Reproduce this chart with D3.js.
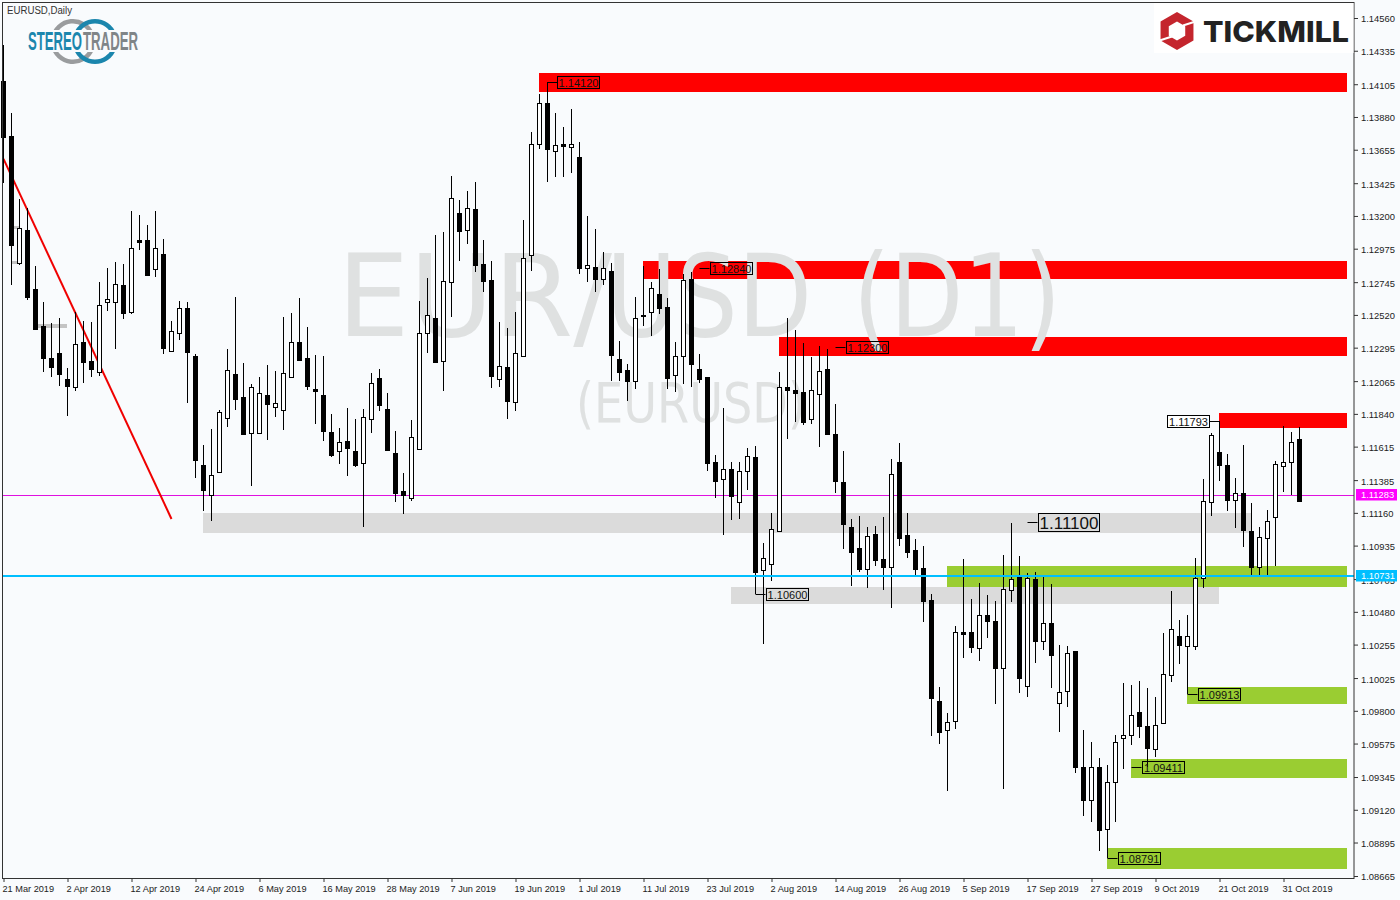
<!DOCTYPE html>
<html>
<head>
<meta charset="utf-8">
<title>EURUSD Daily</title>
<script src="https://cdn.jsdelivr.net/npm/d3@7/dist/d3.min.js"></script>
<style>
html,body{margin:0;padding:0;background:#f9fbfd;}
svg{display:block;}
text{font-family:"Liberation Sans",sans-serif;}
</style>
</head>
<body>
<svg id="chart" width="1400" height="900"></svg>
<script>
const opens=[1.14127,1.13750,1.12877,1.13104,1.12698,1.12444,1.12224,1.12259,1.12080,1.12025,
1.12334,1.12204,1.12128,1.12609,1.12609,1.12726,1.12540,1.13035,1.13035,1.12836,
1.12939,1.12272,1.12396,1.12568,1.12238,1.11489,1.11283,1.11441,1.11812,1.12114,
1.11956,1.11709,1.11709,1.11970,1.11888,1.11867,1.12094,1.12334,1.12224,1.12011,
1.11970,1.11716,1.11585,1.11654,1.11585,1.11503,1.11805,1.12087,1.11874,1.11572,
1.11311,1.11262,1.11599,1.12396,1.12499,1.12204,1.12747,1.13221,1.13104,1.13248,
1.12870,1.12760,1.12080,1.12162,1.11922,1.12238,1.12932,1.13695,1.13976,1.13647,
1.13695,1.13674,1.13605,1.12843,1.12850,1.12767,1.12822,1.12217,1.12142,1.12066,
1.12520,1.12540,1.12664,1.12575,1.12108,1.12238,1.12767,1.12149,1.12094,1.11510,
1.11393,1.11462,1.11235,1.11448,1.11544,1.10768,1.10809,1.11036,1.12025,1.12004,
1.11991,1.11805,1.11977,1.12149,1.11702,1.11372,1.11063,1.10919,1.10775,1.11015,
1.10843,1.10788,1.11510,1.11008,1.10905,1.10782,1.10562,1.09868,1.09669,1.09730,
1.10342,1.10342,1.10232,1.10459,1.10417,1.10094,1.10630,1.10720,1.09971,1.10706,
1.10280,1.10404,1.09854,1.09937,1.10211,1.09414,1.09188,1.09414,1.08988,1.09311,
1.09614,1.09634,1.09792,1.09696,1.09538,1.09717,1.10046,1.10314,1.10246,1.10246,
1.10713,1.11235,1.11578,1.11489,1.11249,1.11297,1.11036,1.10788,1.10988,1.11132,
1.11482,1.11510,1.11668];
const highs=[1.14375,1.13908,1.13317,1.13255,1.12856,1.12609,1.12465,1.12499,1.12156,1.12540,
1.12479,1.12472,1.12747,1.12843,1.12884,1.12870,1.13234,1.13207,1.13138,1.13234,
1.13042,1.12479,1.12616,1.12609,1.12252,1.11627,1.11737,1.11867,1.12286,1.12643,
1.12190,1.12046,1.12094,1.12176,1.12135,1.12506,1.12533,1.12637,1.12437,1.12245,
1.12238,1.11840,1.11743,1.11881,1.11805,1.11874,1.12121,1.12149,1.11984,1.11723,
1.11434,1.11798,1.12616,1.12774,1.13069,1.13090,1.13475,1.13310,1.13372,1.13434,
1.13035,1.12891,1.12472,1.12430,1.12540,1.13172,1.13777,1.14038,1.14120,1.13908,
1.13811,1.13935,1.13708,1.13200,1.13111,1.12953,1.12877,1.12341,1.12183,1.12643,
1.12856,1.12747,1.12836,1.12637,1.12334,1.12801,1.12815,1.12252,1.12094,1.11558,
1.11881,1.11510,1.11510,1.11606,1.11620,1.10953,1.11159,1.12128,1.12499,1.12417,
1.12327,1.12231,1.12307,1.12286,1.11908,1.11585,1.11118,1.11139,1.11063,1.11070,
1.11132,1.11530,1.11640,1.11159,1.10981,1.10933,1.10603,1.09964,1.09785,1.10383,
1.10843,1.10569,1.10678,1.10596,1.10555,1.10871,1.11091,1.10864,1.10747,1.10754,
1.10720,1.10672,1.10252,1.10245,1.10211,1.09669,1.09586,1.09476,1.09428,1.09634,
1.09991,1.09978,1.10005,1.09957,1.09895,1.10335,1.10623,1.10424,1.10459,1.10850,
1.11393,1.11709,1.11793,1.11565,1.11400,1.11627,1.11228,1.11063,1.11180,1.11517,
1.11757,1.11716,1.11750];
const lows=[1.13427,1.12726,1.12863,1.12623,1.12417,1.12128,1.12094,1.12032,1.11826,1.11998,
1.12053,1.12094,1.12101,1.12547,1.12286,1.12492,1.12527,1.12966,1.12788,1.12781,
1.12252,1.12266,1.12348,1.11915,1.11400,1.11173,1.11104,1.11441,1.11750,1.11867,
1.11702,1.11345,1.11702,1.11661,1.11819,1.11730,1.12094,1.12211,1.12004,1.11771,
1.11654,1.11544,1.11496,1.11414,1.11475,1.11063,1.11709,1.11860,1.11585,1.11235,
1.11153,1.11242,1.11592,1.12259,1.12197,1.11998,1.12506,1.12891,1.13008,1.12815,
1.12678,1.12018,1.12025,1.11805,1.11860,1.12238,1.12822,1.13660,1.13434,1.13468,
1.13468,1.13495,1.12801,1.12747,1.12678,1.12726,1.12066,1.12066,1.11929,1.12011,
1.12444,1.12375,1.12527,1.12011,1.11991,1.12046,1.12025,1.12053,1.11448,1.11262,
1.11008,1.11111,1.11118,1.11317,1.10600,1.10259,1.10692,1.11029,1.11668,1.11785,
1.11764,1.11771,1.11613,1.11695,1.11297,1.10912,1.10658,1.10754,1.10644,1.10795,
1.10630,1.10507,1.10933,1.10850,1.10733,1.10410,1.09627,1.09572,1.09249,1.09675,
1.10163,1.10198,1.10143,1.10301,1.09847,1.09263,1.10548,1.09923,1.09895,1.10129,
1.10218,1.09957,1.09655,1.09827,1.09373,1.09078,1.09036,1.08837,1.08791,1.09036,
1.09401,1.09565,1.09614,1.09411,1.09483,1.09710,1.09998,1.10122,1.09913,1.10218,
1.10644,1.11139,1.11379,1.11173,1.11056,1.10926,1.10733,1.10733,1.10733,1.10795,
1.11304,1.11283,1.11235];
const closes=[1.13743,1.13001,1.13117,1.12643,1.12424,1.12224,1.12162,1.12114,1.12032,1.12321,
1.12197,1.12149,1.12588,1.12630,1.12733,1.12533,1.12980,1.13021,1.12795,1.12980,
1.12293,1.12410,1.12568,1.12266,1.11524,1.11317,1.11420,1.11853,1.12142,1.11943,
1.11702,1.12025,1.11984,1.11908,1.11915,1.12121,1.12334,1.12211,1.12032,1.11998,
1.11723,1.11558,1.11647,1.11606,1.11489,1.11819,1.12053,1.11901,1.11592,1.11297,
1.11283,1.11682,1.12396,1.12520,1.12197,1.12753,1.13324,1.13097,1.13255,1.12863,
1.12753,1.12101,1.12169,1.11929,1.12259,1.12911,1.13695,1.13976,1.13660,1.13688,
1.13681,1.13695,1.12843,1.12863,1.12767,1.12843,1.12245,1.12128,1.12066,1.12499,
1.12513,1.12705,1.12568,1.12087,1.12238,1.12760,1.12183,1.12080,1.11503,1.11379,
1.11462,1.11276,1.11448,1.11551,1.10754,1.10850,1.11049,1.12025,1.12004,1.11984,
1.11785,1.12004,1.12135,1.11702,1.11379,1.11084,1.10892,1.10775,1.11001,1.10836,
1.10788,1.11427,1.10988,1.10892,1.10775,1.10555,1.09888,1.09655,1.09723,1.10342,
1.10328,1.10239,1.10459,1.10417,1.10094,1.10637,1.10706,1.10026,1.10713,1.10280,
1.10404,1.10184,1.09930,1.10198,1.09414,1.09188,1.09414,1.08981,1.09311,1.09586,
1.09634,1.09772,1.09696,1.09545,1.09703,1.10053,1.10362,1.10252,1.10314,1.10713,
1.11242,1.11695,1.11489,1.11249,1.11297,1.11043,1.10788,1.10994,1.11104,1.11496,
1.11510,1.11647,1.11242];

const priceTicks=[1.14560,1.14335,1.14105,1.13880,1.13655,1.13425,1.13200,1.12975,1.12745,1.12520,1.12295,1.12065,1.11840,1.11615,1.11385,1.11160,1.10935,1.10705,1.10480,1.10255,1.10025,1.09800,1.09575,1.09345,1.09120,1.08895,1.08665];
const dateTickBars=[0,8,16,24,32,40,48,56,64,72,80,88,96,104,112,120,128,136,144,152,160];
const dateTickLabels=["21 Mar 2019","2 Apr 2019","12 Apr 2019","24 Apr 2019","6 May 2019","16 May 2019","28 May 2019","7 Jun 2019","19 Jun 2019","1 Jul 2019","11 Jul 2019","23 Jul 2019","2 Aug 2019","14 Aug 2019","26 Aug 2019","5 Sep 2019","17 Sep 2019","27 Sep 2019","9 Oct 2019","21 Oct 2019","31 Oct 2019"];

// supply / demand zones: start bar, upper price, lower price
const zoneStart=[66.94,79.94,96.94,151.94,24.94,90.94,117.94,147.94,140.94,137.94];
const zoneEnd  =[167.94,167.94,167.94,167.94,156,151.94,167.94,167.94,167.94,167.94];
const zoneHigh =[1.14182,1.12891,1.12369,1.11846,1.11159,1.10651,1.10795,1.09964,1.09469,1.08858];
const zoneLow  =[1.14052,1.12767,1.12238,1.11743,1.11022,1.10534,1.10651,1.09847,1.09339,1.08714];
const zoneKind =["red","red","red","red","gray","gray","green","green","green","green"];

// price labels: value, anchor bar, side
const labelValue=[1.14120,1.12840,1.12300,1.11793,1.11100,1.10600,1.09913,1.09411,1.08791];
const labelBar  =[68,87,104,152,128,94,148,141,138];
const labelSide =[1,1,1,-1,1,1,1,1,1];
const labelSize =[11,11,11,11,17,11,11,11,11];

const trendBars=[0,21];
const trendPrices=[1.13592,1.11118];
const lastPrice=1.11283;
const bluePrice=1.10731;

const colors={red:"#ff0000",gray:"#dbdbdb",green:"#9acd32"};
const svg=d3.select("#chart");
const x=d3.scaleLinear().domain([0,162]).range([3.5,1299.5]);
const y=d3.scaleLinear().domain([1.1456,1.08665]).range([18,876]);
const py=v=>Math.round(y(v))+0.5;
const fmt=d3.format(".5f");
const bars=d3.range(opens.length);

// zones
svg.append("g").selectAll("rect").data(zoneStart).join("rect")
 .attr("x",(d)=>Math.round(x(d)))
 .attr("y",(d,i)=>Math.round(y(zoneHigh[i])))
 .attr("width",(d,i)=>Math.round(x(zoneEnd[i]))-Math.round(x(d)))
 .attr("height",(d,i)=>Math.round(y(zoneLow[i]))-Math.round(y(zoneHigh[i])))
 .attr("fill",(d,i)=>colors[zoneKind[i]]);

// watermark
const wm=svg.append("g").attr("fill","#dfe1e1");
const wmPart=(t,x0,w)=>wm.append("text").attr("x",x0).attr("y",336).attr("font-size",114).attr("style","font-family:'DejaVu Sans'").attr("textLength",w).attr("lengthAdjust","spacingAndGlyphs").text(t);
wmPart("EUR/",337,275);
wmPart("USD",606,206);
wmPart("(D1)",853,208);
wm.append("text").attr("x",576).attr("y",422).attr("font-size",56).attr("style","font-family:'DejaVu Sans'").attr("textLength",230).attr("lengthAdjust","spacingAndGlyphs").text("(EURUSD)");
wm.append("rect").attr("x",13).attr("y",226).attr("width",6).attr("height",3).attr("fill","#c4c4c4");
wm.append("rect").attr("x",12).attr("y",261).attr("width",7).attr("height",3).attr("fill","#c4c4c4");
wm.append("rect").attr("x",38).attr("y",324).attr("width",29).attr("height",4).attr("fill","#c4c4c4");

// last price line + trend line
svg.append("line").attr("x1",3).attr("x2",1354).attr("y1",py(lastPrice)).attr("y2",py(lastPrice)).attr("stroke","#e010e0").attr("stroke-width",1);
svg.append("path").datum(trendBars).attr("fill","none").attr("stroke","#f00000").attr("stroke-width",2)
 .attr("d",d3.line().x(d=>x(d)).y((d,i)=>y(trendPrices[i])));

// candles
const candles=svg.append("g");
candles.selectAll("line").data(bars).join("line")
 .attr("x1",i=>x(i)).attr("x2",i=>x(i))
 .attr("y1",i=>Math.round(y(highs[i]))).attr("y2",i=>Math.round(y(lows[i])))
 .attr("stroke","#000").attr("stroke-width",1);
candles.selectAll("rect").data(bars).join("rect")
 .attr("x",i=>x(i)-2).attr("width",4)
 .attr("y",i=>py(Math.max(opens[i],closes[i])))
 .attr("height",i=>Math.max(1,py(Math.min(opens[i],closes[i]))-py(Math.max(opens[i],closes[i]))))
 .attr("fill",i=>closes[i]>=opens[i]?"#ffffff":"#000000")
 .attr("stroke","#000").attr("stroke-width",1);

// blue line on top of candles
svg.append("line").attr("x1",3).attr("x2",1354).attr("y1",Math.round(y(bluePrice))+1).attr("y2",Math.round(y(bluePrice))+1).attr("stroke","#00bfff").attr("stroke-width",2);

// price labels
const labels=svg.append("g");
labelValue.forEach((v,i)=>{
  const fs=labelSize[i], big=fs>11;
  const w=big?61:42, h=big?18:12;
  const ly=Math.round(y(v));
  const ax=x(labelBar[i]);
  const side=labelSide[i];
  const bx=side>0?ax+10:ax-10-w;
  labels.append("line").attr("x1",ax).attr("x2",side>0?bx:bx+w).attr("y1",ly+0.5).attr("y2",ly+0.5).attr("stroke","#000");
  labels.append("rect").attr("x",Math.round(bx)+0.5).attr("y",ly-h/2+0.5).attr("width",w).attr("height",h)
    .attr("fill",side<0?"#ffffff":"none").attr("stroke","#000");
  labels.append("text").attr("x",Math.round(bx)+w/2+0.5).attr("y",ly+1).attr("dy","0.36em")
    .attr("text-anchor","middle").attr("font-size",fs).attr("fill","#111").text(fmt(v));
});

// right axis
const axR=svg.append("g").attr("transform","translate(1354,0)").call(d3.axisRight(y).tickValues(priceTicks).tickFormat(fmt).tickSize(4).tickPadding(3));
axR.select(".domain").remove();
axR.selectAll("line").attr("stroke","#333");
axR.selectAll("text").attr("font-size",9.4).attr("fill","#222").attr("font-family",null).attr("dy","0.42em");

// bottom axis
const axB=svg.append("g").attr("transform","translate(0,879)").call(d3.axisBottom(x).tickValues(dateTickBars).tickFormat((d,i)=>dateTickLabels[i]).tickSize(3).tickPadding(3));
axB.select(".domain").remove();
axB.selectAll("line").attr("stroke","#333");
axB.selectAll("text").attr("font-size",9.2).attr("font-family",null).attr("fill","#222").attr("text-anchor","start").attr("dx",-1.5);

// frame
svg.append("rect").attr("x",2.5).attr("y",2.5).attr("width",1351.5).attr("height",876).attr("fill","none").attr("stroke","#333");

// price tags
[[lastPrice,"#ff00ff"],[bluePrice,"#00bfff"]].forEach(([v,c])=>{
  const ty=Math.ceil(y(v));
  svg.append("rect").attr("x",1356).attr("y",ty-6).attr("width",41).attr("height",11.5).attr("fill",c);
  svg.append("text").attr("x",1361).attr("y",ty).attr("dy","0.36em").attr("font-size",9.4).attr("fill","#fff").text(fmt(v));
});

// chart title
svg.append("text").attr("x",7).attr("y",14).attr("font-size",10).attr("fill","#333").attr("textLength",65).attr("lengthAdjust","spacingAndGlyphs").text("EURUSD,Daily");

// StereoTrader logo
const st=svg.append("g");
const arc=d3.arc();
function ring(cx,cy,c,segs){segs.forEach(([a,b])=>{st.append("path").attr("transform",`translate(${cx},${cy})`).attr("fill",c)
  .attr("d",arc({innerRadius:18,outerRadius:22.5,startAngle:a,endAngle:b}));});}
const rad=Math.PI/180;
ring(73,41.5,"#9a9c9e",[[-80*rad,68*rad],[112*rad,260*rad]]);
st.append("rect").attr("x",20).attr("y",30).attr("width",120).attr("height",22).attr("fill","#f9fbfd");
ring(95,41.5,"#1b86ad",[[-70*rad,70*rad],[110*rad,250*rad]]);
st.append("rect").attr("x",27).attr("y",30).attr("width",112).attr("height",22).attr("fill","#f9fbfd");
st.append("text").attr("x",28).attr("y",50).attr("font-size",25).attr("font-weight",700).attr("fill","#1b86ad").attr("textLength",54).attr("lengthAdjust","spacingAndGlyphs").text("STEREO");
st.append("text").attr("x",83).attr("y",50).attr("font-size",25).attr("font-weight",700).attr("fill","#808588").attr("textLength",55).attr("lengthAdjust","spacingAndGlyphs").text("TRADER");

// Tickmill logo
const tk=svg.append("g");
tk.append("rect").attr("x",1154).attr("y",3).attr("width",199.5).attr("height",50).attr("fill","#ffffff");
const hex=(r)=>d3.range(6).map(k=>[1177+r*Math.sin(k*Math.PI/3),31-r*Math.cos(k*Math.PI/3)].join(",")).join("L");
tk.append("path").attr("d","M"+hex(19)+"Z M"+hex(9.5)+"Z").attr("fill-rule","evenodd").attr("fill","#c4252d");
tk.append("line").attr("x1",1183).attr("y1",25.5).attr("x2",1197).attr("y2",21).attr("stroke","#fff").attr("stroke-width",2);
tk.append("line").attr("x1",1158).attr("y1",41).attr("x2",1172).attr("y2",36.5).attr("stroke","#fff").attr("stroke-width",2);
tk.append("text").attr("x",1203).attr("y",41.5).attr("font-size",29).attr("font-weight",800).attr("style","font-family:Inter,'Liberation Sans'").attr("fill","#222").attr("textLength",146).attr("lengthAdjust","spacingAndGlyphs").text("TICKMILL");
</script>
</body>
</html>
